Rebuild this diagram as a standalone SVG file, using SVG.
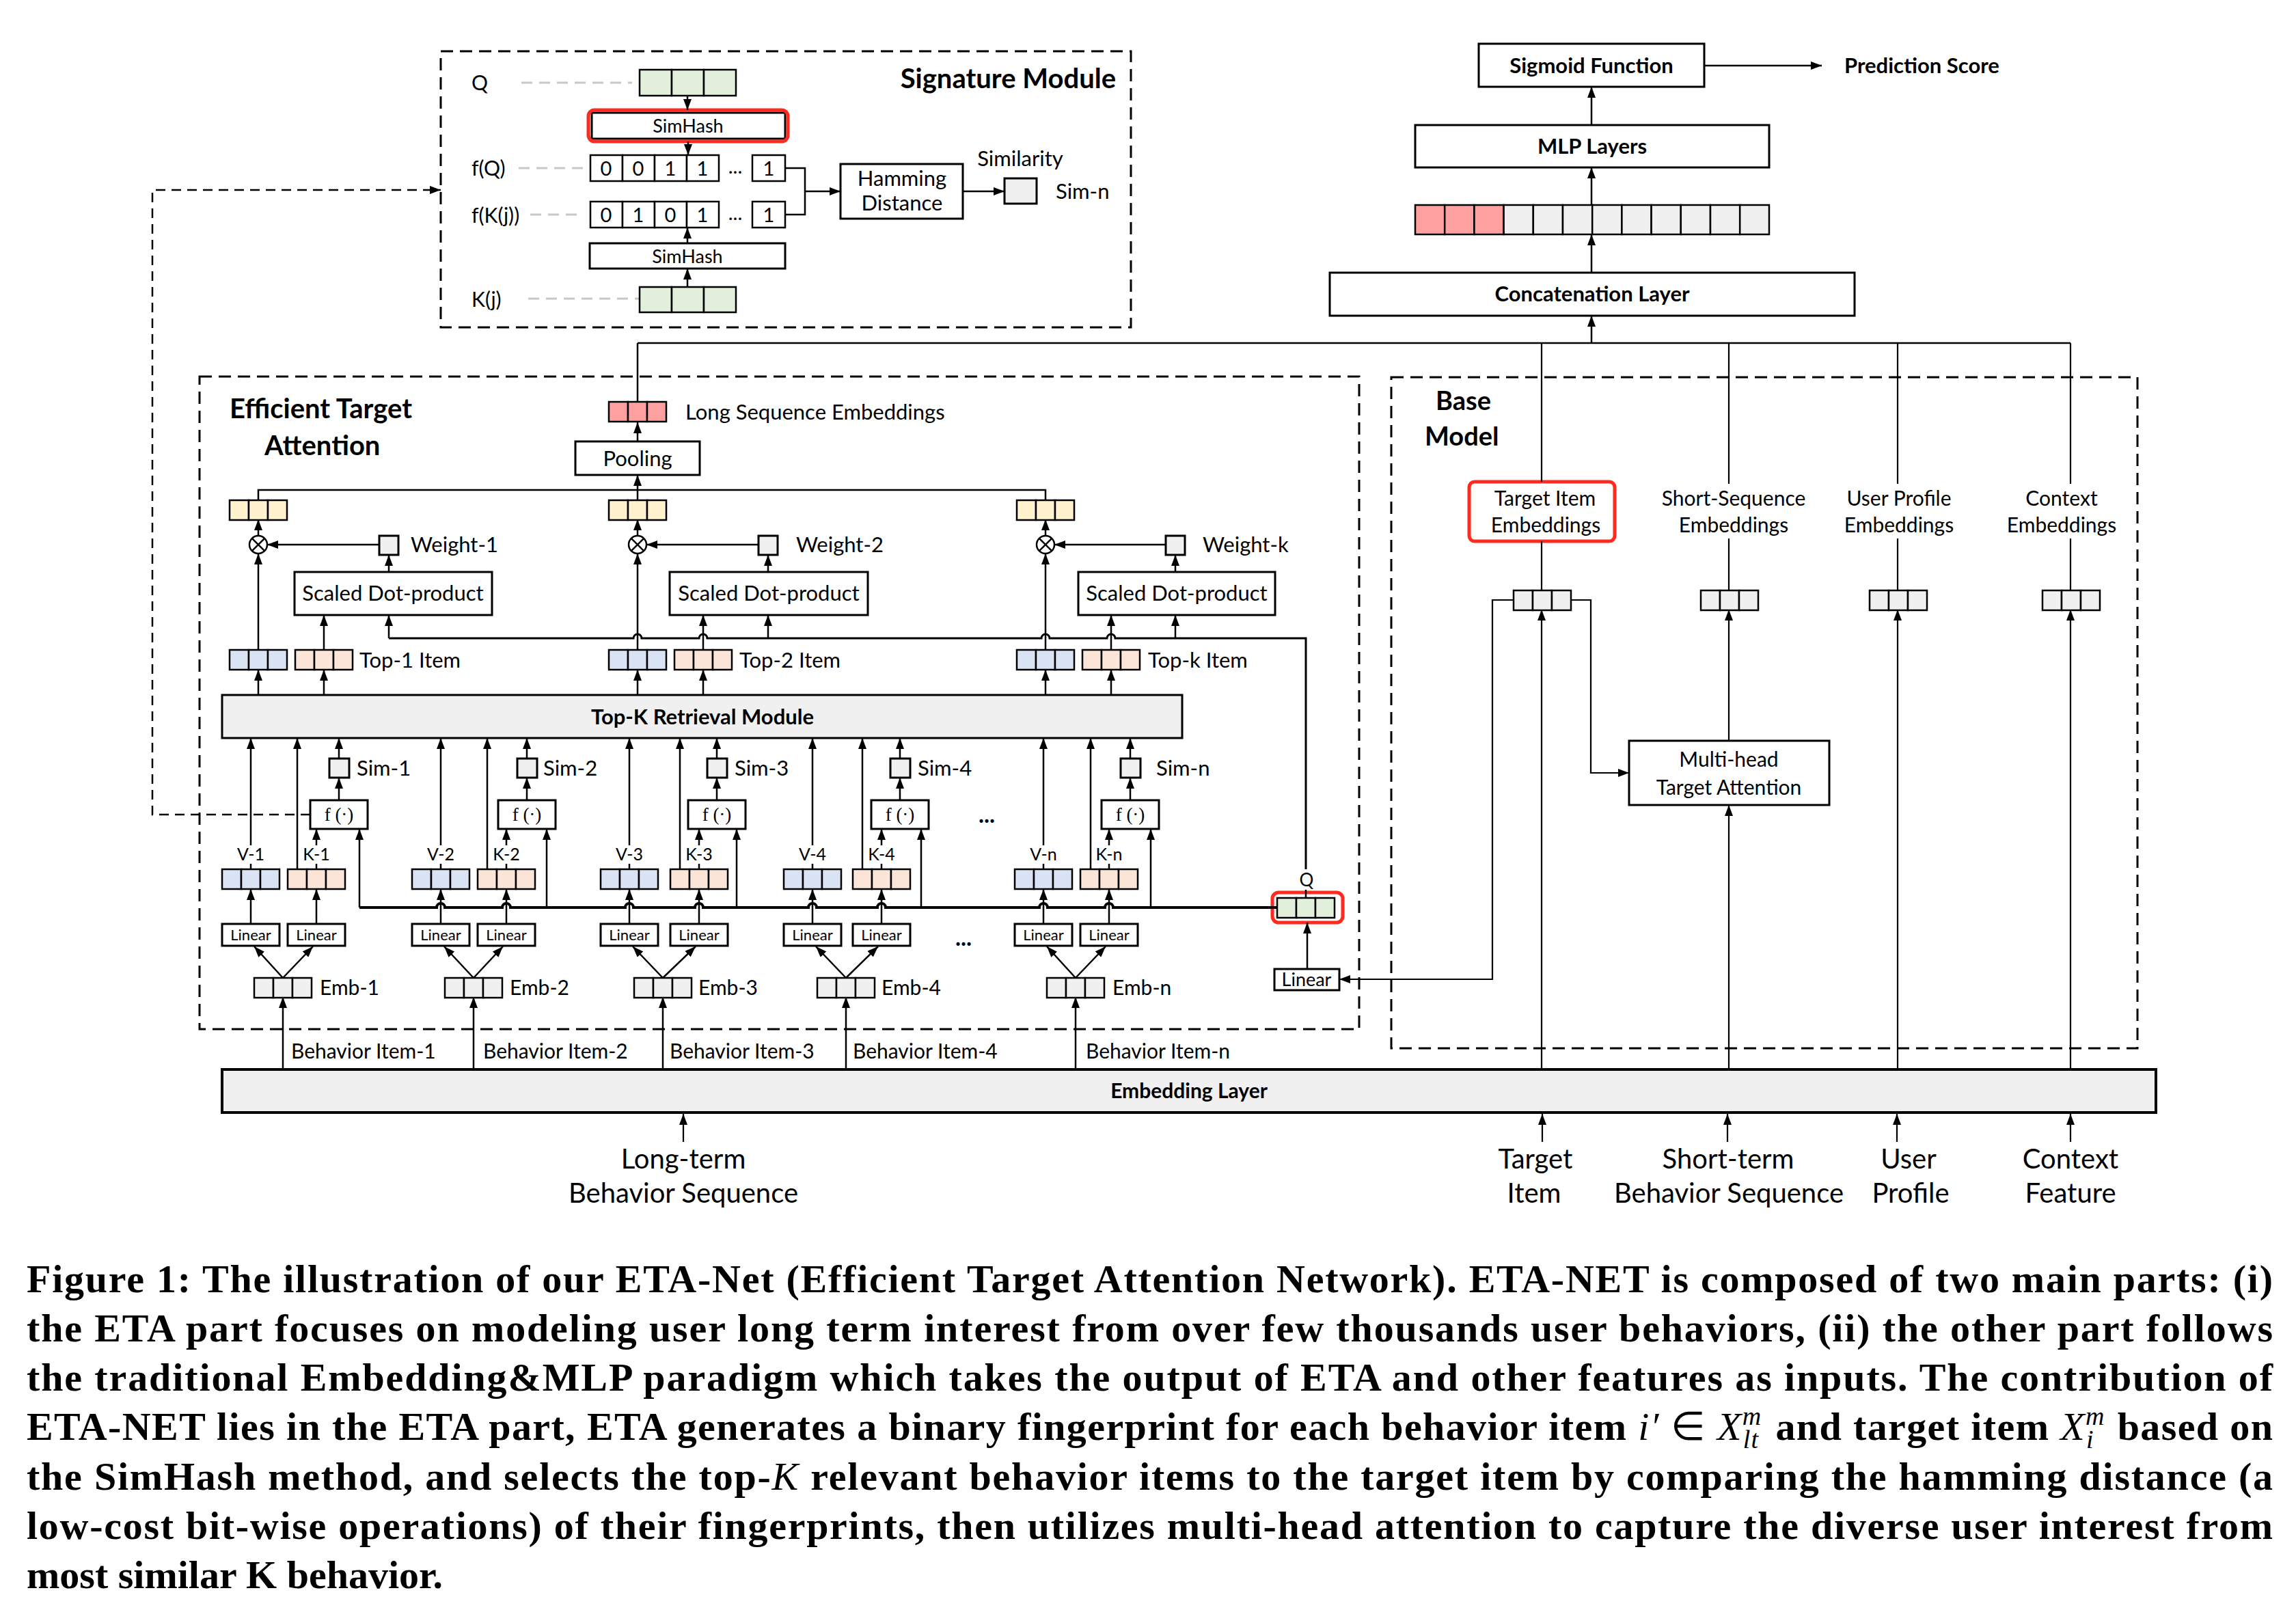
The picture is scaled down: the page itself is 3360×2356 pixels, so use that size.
<svg xmlns="http://www.w3.org/2000/svg" xmlns:xlink="http://www.w3.org/1999/xlink" width="3360" height="2356" viewBox="0 0 3360 2356">
<style>
.t{font-family:Lato,"Open Sans","Liberation Sans",sans-serif;fill:#000}
.b{font-weight:bold}
.m{text-anchor:middle}
.s31{font-size:31px}
.box{fill:#fff;stroke:#000;stroke-width:3}
.gbox{fill:#f0f0f0;stroke:#000;stroke-width:3}
.cell{stroke:#000;stroke-width:2.5}
.dash{fill:none;stroke:#000;stroke-width:3;stroke-dasharray:18 10}
.ln{fill:none;stroke:#000;stroke-width:2.5}
.thin{fill:none;stroke:#000;stroke-width:2.2}
.ar{marker-end:url(#a)}
.gd{stroke:#c8c8c8;stroke-width:3;stroke-dasharray:16 10;fill:none}
.red{fill:none;stroke:#ff2a1f;stroke-width:5}
.cap{font-family:"Liberation Serif","Times New Roman",serif;font-weight:bold;font-size:58px;fill:#000}
.fx{font-family:"Liberation Serif",serif;font-size:27px;text-anchor:middle}
.mi{font-style:italic;font-weight:normal}
</style>
<defs>
<marker id="a" viewBox="0 0 16 12" refX="16" refY="6" markerWidth="16" markerHeight="12" markerUnits="userSpaceOnUse" orient="auto"><path d="M0,0 L16,6 L0,12 z" fill="#000"/></marker>
<g id="c3" class="cell"><rect x="0" y="0" width="28" height="29"/><rect x="28" y="0" width="28" height="29"/><rect x="56" y="0" width="28" height="29"/></g>
</defs>
<rect width="3360" height="2356" fill="#fff"/>

<!-- ===== Signature Module ===== -->
<g id="signature-module">
<rect x="645" y="75" width="1010" height="404" class="dash"/>
<text x="1633" y="129" class="t b" font-size="40" text-anchor="end">Signature Module</text>
<text x="690" y="132" class="t" font-size="30">Q</text>
<line x1="763" y1="121" x2="925" y2="121" class="gd"/>
<g class="cell" fill="#e2efda"><rect x="936" y="102" width="47" height="38"/><rect x="983" y="102" width="47" height="38"/><rect x="1030" y="102" width="47" height="38"/></g>
<rect x="866" y="165" width="283" height="38" class="box"/>
<rect x="861" y="161" width="292" height="46" rx="9" class="red"/>
<text x="1007" y="194" class="t m" font-size="27">SimHash</text>
<text x="690" y="257" class="t" font-size="30">f(Q)</text>
<line x1="759" y1="246" x2="862" y2="246" class="gd"/>
<g class="cell" fill="#fff"><rect x="864" y="227" width="47" height="38"/><rect x="911" y="227" width="47" height="38"/><rect x="958" y="227" width="47" height="38"/><rect x="1005" y="227" width="47" height="38"/><rect x="1101" y="227" width="48" height="38"/></g>
<g class="t m" font-size="29"><text x="887" y="257">0</text><text x="934" y="257">0</text><text x="981" y="257">1</text><text x="1028" y="257">1</text><text x="1076" y="254">...</text><text x="1125" y="257">1</text></g>
<text x="690" y="326" class="t" font-size="30">f(K(j))</text>
<line x1="776" y1="314" x2="852" y2="314" class="gd"/>
<g class="cell" fill="#fff"><rect x="864" y="295" width="47" height="38"/><rect x="911" y="295" width="47" height="38"/><rect x="958" y="295" width="47" height="38"/><rect x="1005" y="295" width="47" height="38"/><rect x="1101" y="295" width="48" height="38"/></g>
<g class="t m" font-size="29"><text x="887" y="325">0</text><text x="934" y="325">1</text><text x="981" y="325">0</text><text x="1028" y="325">1</text><text x="1076" y="322">...</text><text x="1125" y="325">1</text></g>
<rect x="863" y="356" width="286" height="37" class="box"/>
<text x="1006" y="385" class="t m" font-size="27">SimHash</text>
<text x="690" y="449" class="t" font-size="30">K(j)</text>
<line x1="773" y1="437" x2="935" y2="437" class="gd"/>
<g class="cell" fill="#e2efda"><rect x="936" y="420" width="47" height="37"/><rect x="983" y="420" width="47" height="37"/><rect x="1030" y="420" width="47" height="37"/></g>
<rect x="1230" y="240" width="179" height="80" class="box"/>
<text x="1320" y="272" class="t m" font-size="31">Hamming</text>
<text x="1320" y="308" class="t m" font-size="31">Distance</text>
<text x="1493" y="243" class="t m" font-size="31">Similarity</text>
<rect x="1470" y="261" width="47" height="37" class="gbox"/>
<text x="1545" y="291" class="t" font-size="31">Sim-n</text>
</g>

<!-- ===== Top right ===== -->
<g id="sigmoid"><rect x="2164" y="64" width="330" height="63" class="box"/><text x="2329" y="107" class="t b m s31">Sigmoid Function</text></g>
<g id="prediction"><text x="2699" y="107" class="t b s31">Prediction Score</text></g>
<g id="mlp"><rect x="2071" y="183" width="518" height="62" class="box"/><text x="2330" y="225" class="t b m s31">MLP Layers</text></g>
<g id="concat-vector" class="cell">
<rect x="2071" y="300" width="43.2" height="43" fill="#ffa0a0"/><rect x="2114.2" y="300" width="43.2" height="43" fill="#ffa0a0"/><rect x="2157.4" y="300" width="43.2" height="43" fill="#ffa0a0"/>
<rect x="2200.6" y="300" width="43.2" height="43" fill="#f0f0f0"/><rect x="2243.8" y="300" width="43.2" height="43" fill="#f0f0f0"/><rect x="2287" y="300" width="43.2" height="43" fill="#f0f0f0"/><rect x="2330.2" y="300" width="43.2" height="43" fill="#f0f0f0"/><rect x="2373.4" y="300" width="43.2" height="43" fill="#f0f0f0"/><rect x="2416.6" y="300" width="43.2" height="43" fill="#f0f0f0"/><rect x="2459.8" y="300" width="43.2" height="43" fill="#f0f0f0"/><rect x="2503" y="300" width="43.2" height="43" fill="#f0f0f0"/><rect x="2546.2" y="300" width="42.8" height="43" fill="#f0f0f0"/>
</g>
<g id="concat"><rect x="1946" y="399" width="768" height="63" class="box"/><text x="2330" y="441" class="t b m s31">Concatenation Layer</text></g>

<!-- ===== ETA ===== -->
<g id="eta-frame">
<rect x="292" y="551" width="1697" height="955" class="dash"/>
<text x="336" y="612" class="t b" font-size="40">Efficient Target</text>
<text x="387" y="666" class="t b" font-size="40">Attention</text>
</g>
<g id="long-seq-emb"><use href="#c3" x="891" y="588" fill="#ffa0a0"/><text x="1003" y="614" class="t" font-size="31">Long Sequence Embeddings</text></g>
<g id="pooling"><rect x="842" y="646" width="182" height="49" class="box"/><text x="933" y="682" class="t m" font-size="31">Pooling</text></g>

<g id="head-1">
<use href="#c3" x="336" y="732" fill="#fff2cc"/>
<circle cx="378" cy="797" r="13" fill="#fff" stroke="#000" stroke-width="2.5"/><path d="M368.8 787.8 L387.2 806.2 M387.2 787.8 L368.8 806.2" class="ln"/>
<rect x="555" y="784" width="28" height="28" class="gbox"/><text x="601" y="808" class="t s31">Weight-1</text>
<rect x="431" y="837" width="289" height="63" class="box"/><text x="575" y="879" class="t m" font-size="31">Scaled Dot-product</text>
<use href="#c3" x="336" y="951" fill="#dae3f3"/><use href="#c3" x="432" y="951" fill="#fbe5d6"/>
<text x="526" y="977" class="t s31">Top-1 Item</text>
</g>
<g id="head-2">
<use href="#c3" x="891" y="732" fill="#fff2cc"/>
<circle cx="933" cy="797" r="13" fill="#fff" stroke="#000" stroke-width="2.5"/><path d="M923.8 787.8 L942.2 806.2 M942.2 787.8 L923.8 806.2" class="ln"/>
<rect x="1110" y="784" width="28" height="28" class="gbox"/><text x="1165" y="808" class="t s31">Weight-2</text>
<rect x="980" y="837" width="290" height="63" class="box"/><text x="1125" y="879" class="t m" font-size="31">Scaled Dot-product</text>
<use href="#c3" x="891" y="951" fill="#dae3f3"/><use href="#c3" x="987" y="951" fill="#fbe5d6"/>
<text x="1082" y="977" class="t s31">Top-2 Item</text>
</g>
<g id="head-k">
<use href="#c3" x="1488" y="732" fill="#fff2cc"/>
<circle cx="1530" cy="797" r="13" fill="#fff" stroke="#000" stroke-width="2.5"/><path d="M1520.8 787.8 L1539.2 806.2 M1539.2 787.8 L1520.8 806.2" class="ln"/>
<rect x="1706" y="784" width="28" height="28" class="gbox"/><text x="1760" y="808" class="t s31">Weight-k</text>
<rect x="1578" y="837" width="288" height="63" class="box"/><text x="1722" y="879" class="t m" font-size="31">Scaled Dot-product</text>
<use href="#c3" x="1488" y="951" fill="#dae3f3"/><use href="#c3" x="1584" y="951" fill="#fbe5d6"/>
<text x="1680" y="977" class="t s31">Top-k Item</text>
</g>
<g id="topk-module"><rect x="325" y="1017" width="1405" height="63" class="gbox"/><text x="1028" y="1060" class="t b m s31">Top-K Retrieval Module</text></g>

<g id="item-1">
<rect x="482" y="1110" width="29" height="28" class="gbox"/>
<text x="522" y="1135" class="t s31">Sim-1</text>
<rect x="454" y="1171" width="84" height="42" class="box"/><text x="496" y="1201" class="fx">f (·)</text>
<text x="367" y="1259" class="t m" font-size="25">V-1</text><text x="463" y="1259" class="t m" font-size="25">K-1</text>
<use href="#c3" x="325" y="1272" fill="#dae3f3"/><use href="#c3" x="421" y="1272" fill="#fbe5d6"/>
<rect x="325" y="1352" width="84" height="32" class="box"/><text x="367" y="1376" class="t m" font-size="22">Linear</text>
<rect x="421" y="1352" width="84" height="32" class="box"/><text x="463" y="1376" class="t m" font-size="22">Linear</text>
<use href="#c3" x="372" y="1431" fill="#f0f0f0"/><text x="468" y="1456" class="t" font-size="30">Emb-1</text>
</g>
<g id="item-2">
<rect x="757" y="1110" width="29" height="28" class="gbox"/>
<text x="795" y="1135" class="t s31">Sim-2</text>
<rect x="729" y="1171" width="84" height="42" class="box"/><text x="771" y="1201" class="fx">f (·)</text>
<text x="645" y="1259" class="t m" font-size="25">V-2</text><text x="741" y="1259" class="t m" font-size="25">K-2</text>
<use href="#c3" x="603" y="1272" fill="#dae3f3"/><use href="#c3" x="699" y="1272" fill="#fbe5d6"/>
<rect x="603" y="1352" width="84" height="32" class="box"/><text x="645" y="1376" class="t m" font-size="22">Linear</text>
<rect x="699" y="1352" width="84" height="32" class="box"/><text x="741" y="1376" class="t m" font-size="22">Linear</text>
<use href="#c3" x="651" y="1431" fill="#f0f0f0"/><text x="746" y="1456" class="t" font-size="30">Emb-2</text>
</g>
<g id="item-3">
<rect x="1035" y="1110" width="29" height="28" class="gbox"/>
<text x="1075" y="1135" class="t s31">Sim-3</text>
<rect x="1007" y="1171" width="84" height="42" class="box"/><text x="1049" y="1201" class="fx">f (·)</text>
<text x="921" y="1259" class="t m" font-size="25">V-3</text><text x="1023" y="1259" class="t m" font-size="25">K-3</text>
<use href="#c3" x="879" y="1272" fill="#dae3f3"/><use href="#c3" x="981" y="1272" fill="#fbe5d6"/>
<rect x="879" y="1352" width="84" height="32" class="box"/><text x="921" y="1376" class="t m" font-size="22">Linear</text>
<rect x="981" y="1352" width="84" height="32" class="box"/><text x="1023" y="1376" class="t m" font-size="22">Linear</text>
<use href="#c3" x="928" y="1431" fill="#f0f0f0"/><text x="1022" y="1456" class="t" font-size="30">Emb-3</text>
</g>
<g id="item-4">
<rect x="1303" y="1110" width="29" height="28" class="gbox"/>
<text x="1343" y="1135" class="t s31">Sim-4</text>
<rect x="1275" y="1171" width="84" height="42" class="box"/><text x="1317" y="1201" class="fx">f (·)</text>
<text x="1189" y="1259" class="t m" font-size="25">V-4</text><text x="1290" y="1259" class="t m" font-size="25">K-4</text>
<use href="#c3" x="1147" y="1272" fill="#dae3f3"/><use href="#c3" x="1248" y="1272" fill="#fbe5d6"/>
<rect x="1147" y="1352" width="84" height="32" class="box"/><text x="1189" y="1376" class="t m" font-size="22">Linear</text>
<rect x="1248" y="1352" width="84" height="32" class="box"/><text x="1290" y="1376" class="t m" font-size="22">Linear</text>
<use href="#c3" x="1196" y="1431" fill="#f0f0f0"/><text x="1290" y="1456" class="t" font-size="30">Emb-4</text>
</g>
<g id="ellipsis"><text x="1444" y="1204" class="t m b" font-size="34">...</text><text x="1410" y="1384" class="t m b" font-size="34">...</text></g>
<g id="item-n">
<rect x="1640" y="1110" width="29" height="28" class="gbox"/>
<text x="1692" y="1135" class="t s31">Sim-n</text>
<rect x="1612" y="1171" width="84" height="42" class="box"/><text x="1654" y="1201" class="fx">f (·)</text>
<text x="1527" y="1259" class="t m" font-size="25">V-n</text><text x="1623" y="1259" class="t m" font-size="25">K-n</text>
<use href="#c3" x="1485" y="1272" fill="#dae3f3"/><use href="#c3" x="1581" y="1272" fill="#fbe5d6"/>
<rect x="1485" y="1352" width="84" height="32" class="box"/><text x="1527" y="1376" class="t m" font-size="22">Linear</text>
<rect x="1581" y="1352" width="84" height="32" class="box"/><text x="1623" y="1376" class="t m" font-size="22">Linear</text>
<use href="#c3" x="1532" y="1431" fill="#f0f0f0"/><text x="1628" y="1456" class="t" font-size="30">Emb-n</text>
</g>
<g id="query">
<text x="1912" y="1297" class="t m" font-size="26">Q</text>
<use href="#c3" x="1869" y="1314" fill="#e2efda"/>
<rect x="1862" y="1306" width="103" height="44" rx="9" class="red"/>
<rect x="1865" y="1418" width="95" height="31" class="box"/><text x="1912" y="1443" class="t m" font-size="27">Linear</text>
</g>

<!-- ===== Base Model ===== -->
<g id="base-frame">
<rect x="2036" y="552" width="1092" height="982" class="dash"/>
<text x="2101" y="600" class="t b" font-size="38">Base</text>
<text x="2085" y="652" class="t b" font-size="38">Model</text>
</g>
<g id="target-emb">
<rect x="2150" y="705" width="213" height="87" rx="8" class="red" stroke-width="4.5"/>
<text x="2261" y="740" class="t m" font-size="30">Target Item</text><text x="2262" y="779" class="t m" font-size="30">Embeddings</text>
<use href="#c3" x="2215" y="864" fill="#f0f0f0"/>
</g>
<g id="short-emb">
<text x="2537" y="740" class="t m" font-size="30">Short-Sequence</text><text x="2537" y="779" class="t m" font-size="30">Embeddings</text>
<use href="#c3" x="2489" y="864" fill="#f0f0f0"/>
</g>
<g id="user-emb">
<text x="2779" y="740" class="t m" font-size="30">User Profile</text><text x="2779" y="779" class="t m" font-size="30">Embeddings</text>
<use href="#c3" x="2736" y="864" fill="#f0f0f0"/>
</g>
<g id="context-emb">
<text x="3017" y="740" class="t m" font-size="30">Context</text><text x="3017" y="779" class="t m" font-size="30">Embeddings</text>
<use href="#c3" x="2989" y="864" fill="#f0f0f0"/>
</g>
<g id="mhta"><rect x="2384" y="1084" width="293" height="94" class="box" stroke-width="2.5"/><text x="2530" y="1122" class="t m" font-size="30">Multi-head</text><text x="2530" y="1163" class="t m" font-size="30">Target Attention</text></g>

<!-- ===== Embedding layer and inputs ===== -->
<g id="embedding-layer"><rect x="325" y="1565" width="2830" height="63" fill="#f0f0f0" stroke="#000" stroke-width="4"/><text x="1740" y="1607" class="t b m" font-size="30">Embedding Layer</text></g>
<g id="behavior-labels" class="t" font-size="30">
<text x="426" y="1549">Behavior Item-1</text><text x="707" y="1549">Behavior Item-2</text><text x="980" y="1549">Behavior Item-3</text><text x="1248" y="1549">Behavior Item-4</text><text x="1589" y="1549">Behavior Item-n</text>
</g>
<g id="input-longterm" class="t m" font-size="40"><text x="1000" y="1710">Long-term</text><text x="1000" y="1760">Behavior Sequence</text></g>
<g id="input-target" class="t m" font-size="40"><text x="2247" y="1710">Target</text><text x="2245" y="1760">Item</text></g>
<g id="input-short" class="t m" font-size="40"><text x="2529" y="1710">Short-term</text><text x="2530" y="1760">Behavior Sequence</text></g>
<g id="input-user" class="t m" font-size="40"><text x="2793" y="1710">User</text><text x="2796" y="1760">Profile</text></g>
<g id="input-context" class="t m" font-size="40"><text x="3030" y="1710">Context</text><text x="3030" y="1760">Feature</text></g>

<!-- ===== Connectors ===== -->
<g id="connectors">
<path d="M1006 140 V161" class="ln ar"/>
<path d="M1007 207 V227" class="ln ar"/>
<path d="M1006 356 V333" class="ln ar"/>
<path d="M1006 420 V393" class="ln ar"/>
<path d="M1149 246 H1178 V314 H1149" class="ln"/>
<path d="M1178 280 H1230" class="ln ar"/>
<path d="M1409 280 H1470" class="ln ar"/>
<path d="M454 1192 H223 V278 H645" fill="none" stroke="#000" stroke-width="2.5" stroke-dasharray="14 9" marker-end="url(#a)"/>
<path d="M2494 96 H2666" class="ln ar"/>
<path d="M2329 183 V127" class="ln ar"/>
<path d="M2329 300 V245" class="ln ar"/>
<path d="M2329 399 V343" class="ln ar"/>
<path d="M2329 502 V462" class="ln ar"/>
<path d="M933 502 H3030" class="ln"/>
<path d="M933 588 V502" class="ln"/>
<path d="M933 646 V618" class="ln ar"/>
<path d="M933 717 V695" class="ln ar"/>
<path d="M378 732 V717 H1530 V732" class="ln"/>
<path d="M933 732 V717" class="ln"/>
<path d="M378 784 V760" class="ln ar"/><path d="M933 784 V760" class="ln ar"/><path d="M1530 784 V760" class="ln ar"/>
<path d="M555 797 H391" class="ln ar"/><path d="M1110 797 H946" class="ln ar"/><path d="M1706 797 H1543" class="ln ar"/>
<path d="M569 837 V812" class="ln ar"/><path d="M1124 837 V812" class="ln ar"/><path d="M1720 837 V812" class="ln ar"/>
<path d="M569 934 V900" class="ln ar"/><path d="M1124 934 V900" class="ln ar"/><path d="M1720 934 V900" class="ln ar"/>
<path d="M474 951 V900" class="ln ar"/><path d="M1029 951 V900" class="ln ar"/><path d="M1626 951 V900" class="ln ar"/>
<path d="M378 951 V810" class="ln ar"/><path d="M933 951 V810" class="ln ar"/><path d="M1530 951 V810" class="ln ar"/>
<path d="M569 934 H927 A6 6 0 0 1 939 934 H1023 A6 6 0 0 1 1035 934 H1524 A6 6 0 0 1 1536 934 H1620 A6 6 0 0 1 1632 934 H1911 V1272" fill="none" stroke="#000" stroke-width="3"/>
<path d="M378 1017 V980" class="ln ar"/><path d="M474 1017 V980" class="ln ar"/>
<path d="M933 1017 V980" class="ln ar"/><path d="M1029 1017 V980" class="ln ar"/>
<path d="M1530 1017 V980" class="ln ar"/><path d="M1626 1017 V980" class="ln ar"/>
<path d="M414 1565 V1459" class="ln ar"/><path d="M414 1431 L372 1385" class="ln ar"/><path d="M414 1431 L458 1385" class="ln ar"/>
<path d="M367 1352 V1301" class="ln ar"/><path d="M463 1352 V1301" class="ln ar"/>
<path d="M367 1272 V1264 M463 1272 V1264" class="ln"/>
<path d="M367 1237 V1080" class="ln ar"/><path d="M463 1237 V1213" class="ln ar"/>
<path d="M435 1272 V1080" class="ln ar"/><path d="M526 1328 V1213" class="ln ar"/>
<path d="M496 1171 V1138" class="ln ar"/><path d="M496 1110 V1080" class="ln ar"/>
<path d="M693 1565 V1459" class="ln ar"/><path d="M693 1431 L650 1385" class="ln ar"/><path d="M693 1431 L736 1385" class="ln ar"/>
<path d="M645 1352 V1301" class="ln ar"/><path d="M741 1352 V1301" class="ln ar"/>
<path d="M645 1272 V1264 M741 1272 V1264" class="ln"/>
<path d="M645 1237 V1080" class="ln ar"/><path d="M741 1237 V1213" class="ln ar"/>
<path d="M713 1272 V1080" class="ln ar"/><path d="M800 1328 V1213" class="ln ar"/>
<path d="M771 1171 V1138" class="ln ar"/><path d="M771 1110 V1080" class="ln ar"/>
<path d="M970 1565 V1459" class="ln ar"/><path d="M970 1431 L926 1385" class="ln ar"/><path d="M970 1431 L1018 1385" class="ln ar"/>
<path d="M921 1352 V1301" class="ln ar"/><path d="M1023 1352 V1301" class="ln ar"/>
<path d="M921 1272 V1264 M1023 1272 V1264" class="ln"/>
<path d="M921 1237 V1080" class="ln ar"/><path d="M1023 1237 V1213" class="ln ar"/>
<path d="M995 1272 V1080" class="ln ar"/><path d="M1078 1328 V1213" class="ln ar"/>
<path d="M1049 1171 V1138" class="ln ar"/><path d="M1049 1110 V1080" class="ln ar"/>
<path d="M1238 1565 V1459" class="ln ar"/><path d="M1238 1431 L1194 1385" class="ln ar"/><path d="M1238 1431 L1285 1385" class="ln ar"/>
<path d="M1189 1352 V1301" class="ln ar"/><path d="M1290 1352 V1301" class="ln ar"/>
<path d="M1189 1272 V1264 M1290 1272 V1264" class="ln"/>
<path d="M1189 1237 V1080" class="ln ar"/><path d="M1290 1237 V1213" class="ln ar"/>
<path d="M1262 1272 V1080" class="ln ar"/><path d="M1348 1328 V1213" class="ln ar"/>
<path d="M1317 1171 V1138" class="ln ar"/><path d="M1317 1110 V1080" class="ln ar"/>
<path d="M1574 1565 V1459" class="ln ar"/><path d="M1574 1431 L1532 1385" class="ln ar"/><path d="M1574 1431 L1618 1385" class="ln ar"/>
<path d="M1527 1352 V1301" class="ln ar"/><path d="M1623 1352 V1301" class="ln ar"/>
<path d="M1527 1272 V1264 M1623 1272 V1264" class="ln"/>
<path d="M1527 1237 V1080" class="ln ar"/><path d="M1623 1237 V1213" class="ln ar"/>
<path d="M1596 1272 V1080" class="ln ar"/><path d="M1684 1328 V1213" class="ln ar"/>
<path d="M1654 1171 V1138" class="ln ar"/><path d="M1654 1110 V1080" class="ln ar"/>
<path d="M526 1328 H639 A6 6 0 0 1 651 1328 H735 A6 6 0 0 1 747 1328 H915 A6 6 0 0 1 927 1328 H1017 A6 6 0 0 1 1029 1328 H1183 A6 6 0 0 1 1195 1328 H1284 A6 6 0 0 1 1296 1328 H1521 A6 6 0 0 1 1533 1328 H1617 A6 6 0 0 1 1629 1328 H1869" fill="none" stroke="#000" stroke-width="4"/>
<path d="M1911 1314 V1302" class="ln"/>
<path d="M1913 1418 V1350" class="ln ar"/>
<path d="M2215 878 H2184 V1433 H1960" class="thin ar"/>
<path d="M2298 878 H2328 V1131 H2384" class="thin ar"/>
<path d="M2256 1565 V892" class="thin ar"/><path d="M2256 864 V792" class="thin"/><path d="M2256 705 V502" class="thin"/>
<path d="M2530 1565 V1178" class="thin ar"/><path d="M2530 1084 V892" class="thin ar"/><path d="M2530 864 V788" class="thin"/><path d="M2530 708 V502" class="thin"/>
<path d="M2777 1565 V892" class="thin ar"/><path d="M2777 864 V788" class="thin"/><path d="M2777 708 V502" class="thin"/>
<path d="M3030 1565 V892" class="thin ar"/><path d="M3030 864 V788" class="thin"/><path d="M3030 708 V502" class="thin"/>
<path d="M1000 1671 V1630" class="thin ar"/><path d="M2257 1671 V1630" class="thin ar"/><path d="M2528 1671 V1630" class="thin ar"/><path d="M2776 1671 V1630" class="thin ar"/><path d="M3030 1671 V1630" class="thin ar"/>
</g>

<!-- ===== Caption ===== -->
<g id="caption" class="cap">
<text x="39" y="1891" textLength="3287" lengthAdjust="spacing">Figure 1: The illustration of our ETA-Net (Efficient Target Attention Network). ETA-NET is composed of two main parts: (i)</text>
<text x="39" y="1963" textLength="3287" lengthAdjust="spacing">the ETA part focuses on modeling user long term interest from over few thousands user behaviors, (ii) the other part follows</text>
<text x="39" y="2035" textLength="3287" lengthAdjust="spacing">the traditional Embedding&amp;MLP paradigm which takes the output of ETA and other features as inputs. The contribution of</text>
<text x="39" y="2107" textLength="3287" lengthAdjust="spacing">ETA-NET lies in the ETA part, ETA generates a binary fingerprint for each behavior item <tspan class="mi">i′</tspan> <tspan font-weight="normal">∈</tspan> <tspan class="mi">X</tspan><tspan class="mi" font-size="38" dy="-22">m</tspan><tspan class="mi" font-size="38" dx="-28" dy="34">lt</tspan><tspan dx="8" dy="-12"> and target item </tspan><tspan class="mi">X</tspan><tspan class="mi" font-size="38" dy="-22">m</tspan><tspan class="mi" font-size="38" dx="-28" dy="34">i</tspan><tspan dx="18" dy="-12"> based on</tspan></text>
<text x="39" y="2180" textLength="3287" lengthAdjust="spacing">the SimHash method, and selects the top-<tspan class="mi">K</tspan> relevant behavior items to the target item by comparing the hamming distance (a</text>
<text x="39" y="2252" textLength="3287" lengthAdjust="spacing">low-cost bit-wise operations) of their fingerprints, then utilizes multi-head attention to capture the diverse user interest from</text>
<text x="39" y="2324">most similar K behavior.</text>
</g>
</svg>
